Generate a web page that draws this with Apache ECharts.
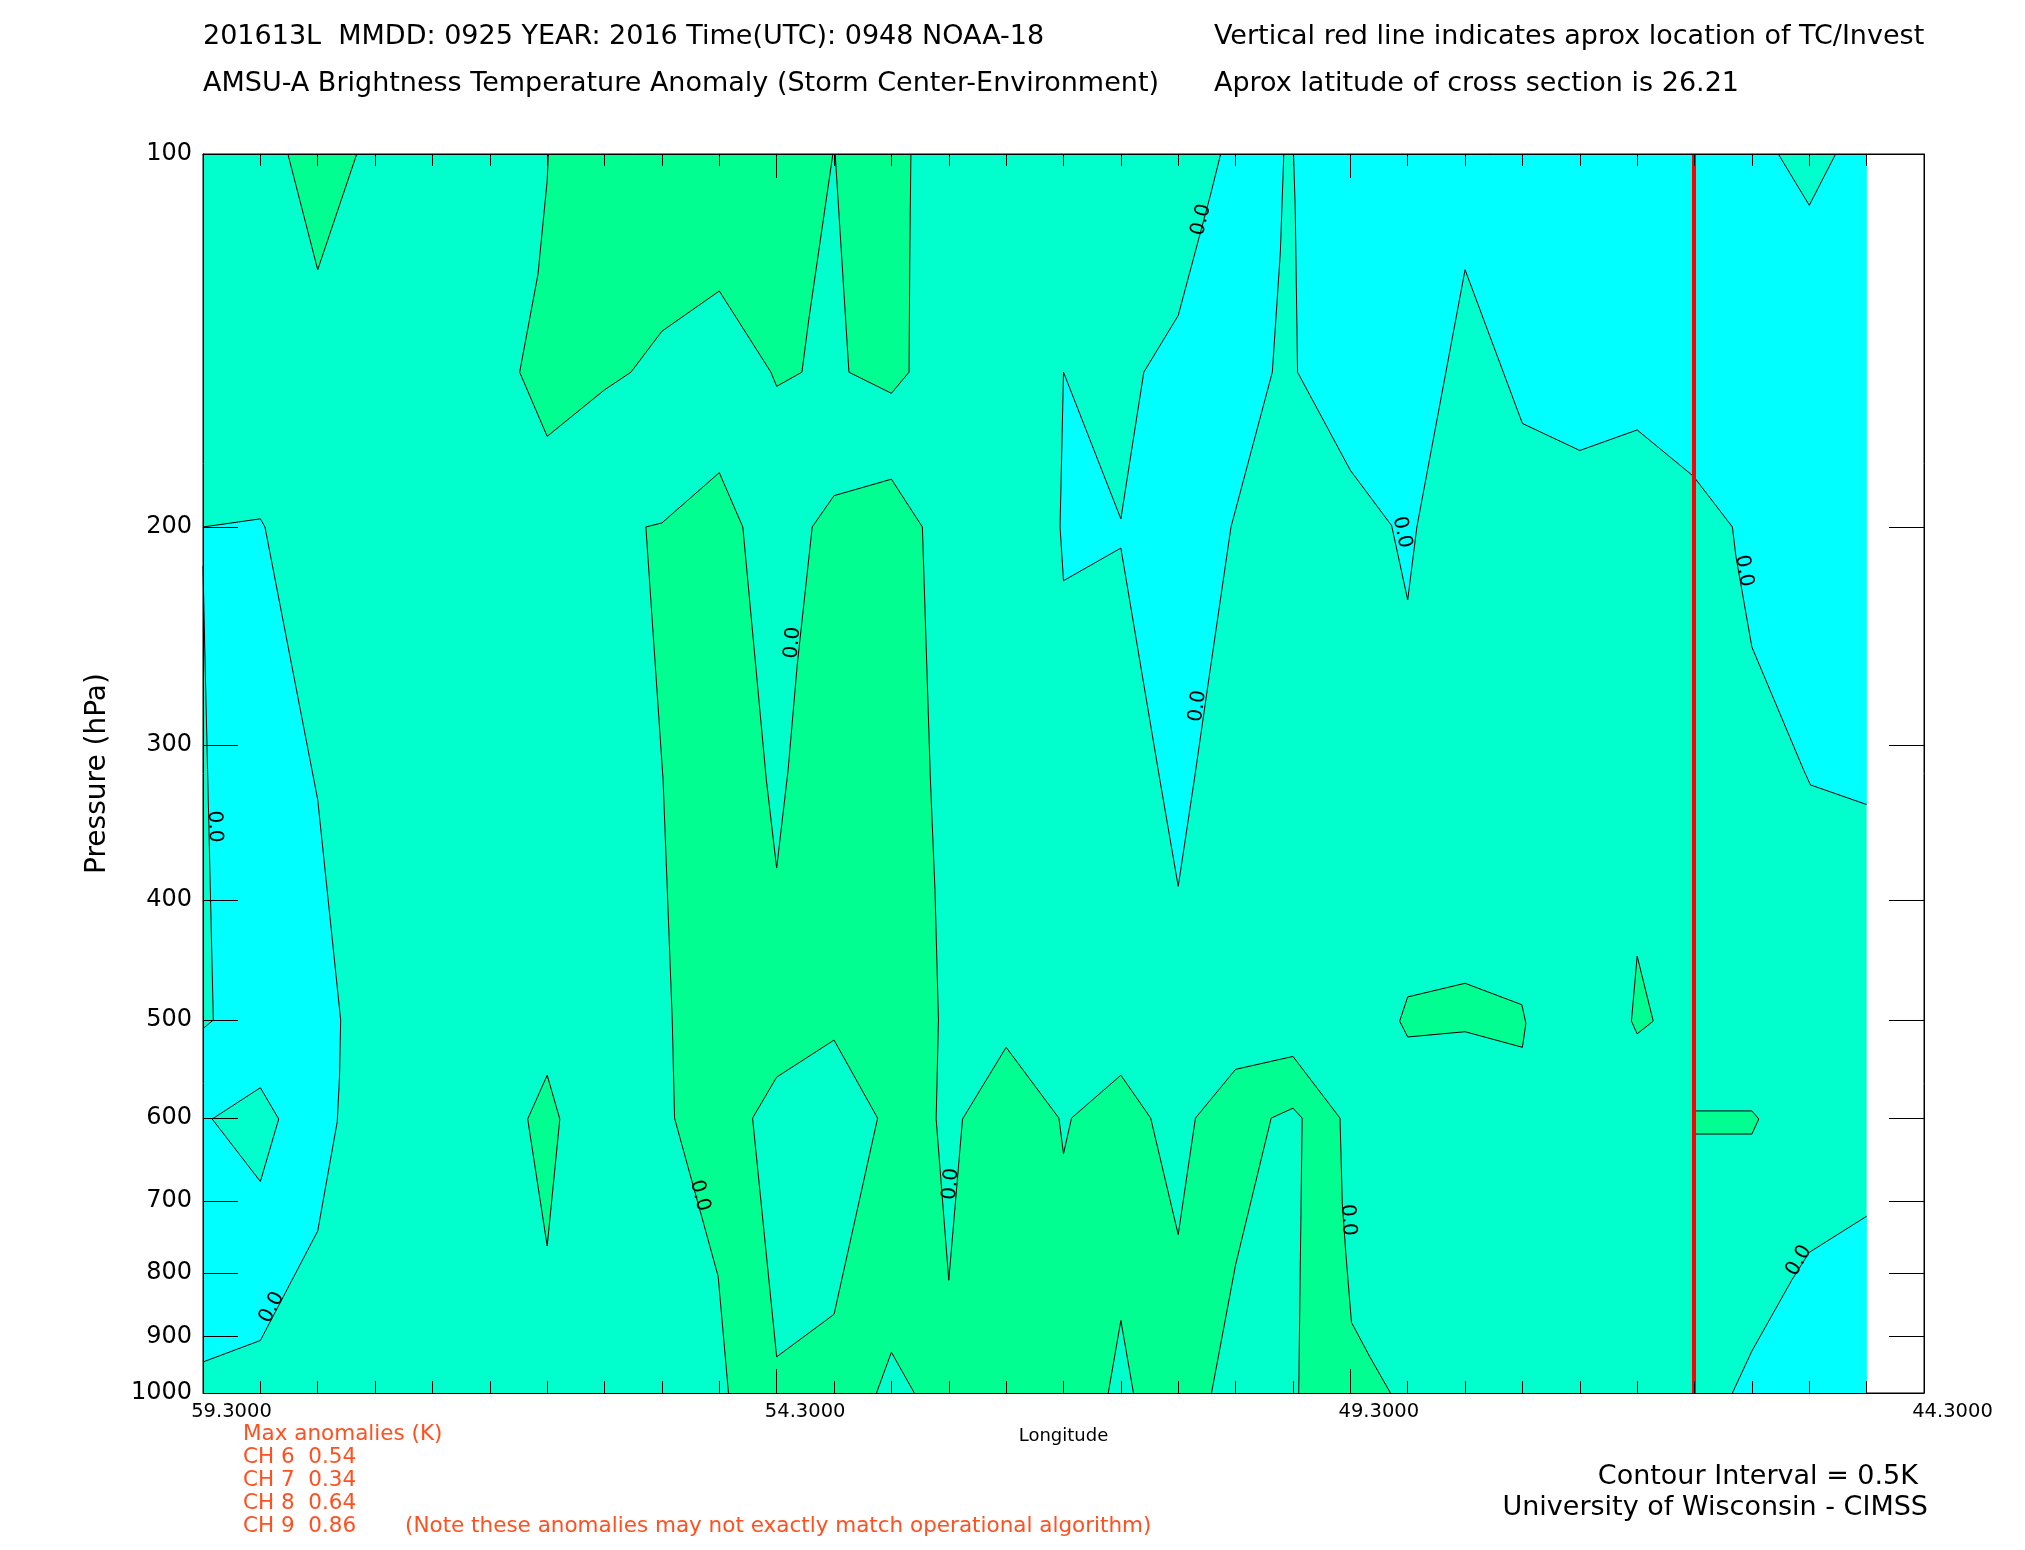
<!DOCTYPE html>
<html><head><meta charset="utf-8">
<script src="https://cdn.jsdelivr.net/npm/echarts@6/dist/echarts.min.js"></script>
<style>html,body{margin:0;padding:0;background:#fff}#chart{width:2025px;height:1550px}</style>
</head><body><div id="chart"></div>
<script>
// ---- axis definitions ----
const lonMin = 44.3, lonMax = 59.3, lonInterval = 5, lonMinorInterval = 0.5;
const dataLonWest = 59.3, dataLonEast = 44.8;
const pressureMin = 100, pressureMax = 1000;
const pressureTicks = [100, 200, 300, 400, 500, 600, 700, 800, 900, 1000];
const tcLongitude = 46.31;

// ---- contour regions: [longitude, pressure(hPa)] vertices ----
const fieldExtent = [[59.3,100],[44.8,100],[44.8,1000],[59.3,1000]];
const cyanLeft = [[59.3,200],[58.8,197],[58.76,200],[58.3,332],[58.1,500],[58.11,555],[58.13,604],[58.3,740],[58.8,907],[59.3,944]];
const midSliverLeft = [[59.3,215],[59.285,250],[59.26,314],[59.21,500],[59.3,508]];
const midDiamondLeft = [[59.22,601],[58.8,567],[58.64,601],[58.8,675]];
const cyanUpper = [[50.43,100],[50.52,108],[50.8,135],[51.1,150],[51.3,197],[51.8,150],[51.83,200],[51.8,221],[51.3,208],[50.96,320],[50.8,390],[50.66,320],[50.53,264],[50.34,200],[49.98,150],[49.91,120],[49.88,100]];
const cyanUpperRight = [[49.795,100],[49.78,111],[49.76,150],[49.3,180],[48.94,199.5],[48.8,229],[48.72,200],[48.3,124],[47.8,165],[47.3,173.5],[46.8,167],[46.31,182],[45.97,200],[45.94,211],[45.8,250],[45.35,314],[45.29,323],[44.8,335],[44.8,100]];
const midTopRightTri = [[45.57,100],[45.3,110],[45.07,100]];
const cyanLowerRight = [[45.97,1000],[45.8,925],[45.45,810],[45.3,770],[44.8,720],[44.8,1000]];
const greenTopLeftTri = [[58.56,100],[58.3,124],[57.96,100]];
const greenTopA = [[56.29,100],[56.3,105],[56.38,125],[56.54,150],[56.3,169],[55.8,155],[55.57,150],[55.3,139],[54.8,129],[54.35,150],[54.3,154],[54.08,150],[54.02,136],[53.81,100]];
const greenTopB = [[53.79,100],[53.67,150],[53.3,156],[53.146,150],[53.14,122],[53.13,100]];
const greenColumn = [[55.44,200],[55.3,198.5],[54.8,180.8],[54.595,200],[54.39,320],[54.3,377],[54.2,314],[54.12,258],[53.99,200],[53.8,188.7],[53.3,183],[53.03,200],[52.96,320],[52.92,393],[52.89,500],[52.91,601],[52.8,811],[52.68,601],[52.3,526],[51.84,600],[51.8,641],[51.73,600],[51.3,554],[51.04,600],[50.8,745],[50.65,600],[50.3,548],[49.8,535],[49.39,600],[49.37,703],[49.34,770],[49.29,877],[49.13,935],[48.95,1000],[54.72,1000],[54.81,805],[55.19,600],[55.21,500],[55.29,320]];
const midHoleA = [[54.51,600],[54.3,556],[53.8,519],[53.42,600],[53.8,864],[54.3,935]];
const midHoleB = [[50.51,1000],[50.3,788],[49.99,600],[49.8,589],[49.72,600],[49.75,1000]];
const midTriA = [[53.43,1000],[53.3,927],[53.1,1000]];
const midTriB = [[51.41,1000],[51.3,874],[51.19,1000]];
const greenDiamond = [[56.3,554],[56.19,601],[56.3,761],[56.47,601]];
const greenBlobA = [[48.87,501],[48.8,479],[48.3,467],[47.805,486],[47.77,503],[47.8,526],[48.3,511],[48.8,516]];
const greenBlobB = [[46.8,444],[46.66,501],[46.8,513],[46.85,501]];
const greenBlobC = [[46.31,592],[45.8,592],[45.74,601],[45.8,618],[46.31,618]];

// contour labels: [longitude, pressure, angle in degrees]
const contourLabels = [[59.2,349,-88],[50.6,113,76],[50.63,279,82],[48.85,202,-78],[45.87,217,-80],[54.16,248,85],[52.78,678,85],[49.32,725,-86],[54.97,693,-75],[58.7,853,62],[45.39,782,60]];
const contourLabelText = '0.0';

const titleLines = ['201613L  MMDD: 0925 YEAR: 2016 Time(UTC): 0948 NOAA-18', 'AMSU-A Brightness Temperature Anomaly (Storm Center-Environment)'];
const noteLines = ['Vertical red line indicates aprox location of TC/Invest', 'Aprox latitude of cross section is 26.21'];
const anomalyLines = ['Max anomalies (K)', 'CH 6  0.54', 'CH 7  0.34', 'CH 8  0.64', 'CH 9  0.86'];
const anomalyNote = '(Note these anomalies may not exactly match operational algorithm)';
const creditLines = ['Contour Interval = 0.5K', 'University of Wisconsin - CIMSS'];

// ---- styling ----
const C_CYAN = '#00ffff', C_MID = '#00ffcc', C_GREEN = '#00ff90';
const layers = [
  {poly: fieldExtent, color: C_MID, outline: false},
  {poly: cyanLeft, color: C_CYAN, outline: true},
  {poly: midSliverLeft, color: C_MID, outline: true},
  {poly: midDiamondLeft, color: C_MID, outline: true},
  {poly: cyanUpper, color: C_CYAN, outline: true},
  {poly: cyanUpperRight, color: C_CYAN, outline: true},
  {poly: midTopRightTri, color: C_MID, outline: true},
  {poly: cyanLowerRight, color: C_CYAN, outline: true},
  {poly: greenTopLeftTri, color: C_GREEN, outline: true},
  {poly: greenTopA, color: C_GREEN, outline: true},
  {poly: greenTopB, color: C_GREEN, outline: true},
  {poly: greenColumn, color: C_GREEN, outline: true},
  {poly: midHoleA, color: C_MID, outline: true},
  {poly: midHoleB, color: C_MID, outline: true},
  {poly: midTriA, color: C_MID, outline: true},
  {poly: midTriB, color: C_MID, outline: true},
  {poly: greenDiamond, color: C_GREEN, outline: true},
  {poly: greenBlobA, color: C_GREEN, outline: true},
  {poly: greenBlobB, color: C_GREEN, outline: true},
  {poly: greenBlobC, color: C_GREEN, outline: true}
];

function near(a, b) { return Math.abs(a - b) < 1e-6; }
function onBoundary(a, b) {
  return (near(a[0], dataLonWest) && near(b[0], dataLonWest)) ||
         (near(a[0], dataLonEast) && near(b[0], dataLonEast)) ||
         (near(a[1], pressureMin) && near(b[1], pressureMin)) ||
         (near(a[1], pressureMax) && near(b[1], pressureMax));
}
function lineEl(points) {
  return {type: 'polyline', shape: {points: points}, style: {stroke: '#000', lineWidth: 1, fill: null}, silent: true};
}
function renderRegion(params, api) {
  const layer = layers[params.dataIndex];
  const poly = layer.poly;
  const pts = poly.map(v => api.coord(v));
  const children = [{type: 'polygon', shape: {points: pts}, style: {fill: layer.color, stroke: null}, silent: true}];
  if (layer.outline) {
    const n = pts.length;
    let start = 0;
    for (let i = 0; i < n; i++) { if (onBoundary(poly[i], poly[(i + 1) % n])) { start = (i + 1) % n; break; } }
    let run = [pts[start]];
    for (let k = 0; k < n; k++) {
      const i = (start + k) % n, j = (i + 1) % n;
      if (onBoundary(poly[i], poly[j])) { if (run.length > 1) children.push(lineEl(run)); run = [pts[j]]; }
      else run.push(pts[j]);
    }
    if (run.length > 1) children.push(lineEl(run));
  }
  return {type: 'group', children: children};
}
function renderLabel(params, api) {
  const c = api.coord([api.value(0), api.value(1)]);
  return {type: 'text', x: c[0], y: c[1], rotation: api.value(2) * Math.PI / 180, silent: true,
    style: {text: contourLabelText, fill: '#000', font: '20px "DejaVu Sans"', align: 'center', verticalAlign: 'middle'}};
}

const FONT = '"DejaVu Sans", sans-serif';
const graphics = [];
titleLines.forEach((t, i) => graphics.push({type: 'text', left: 203, top: 23 + i * 47, style: {text: t, font: '27px ' + FONT, fill: '#000'}}));
noteLines.forEach((t, i) => graphics.push({type: 'text', left: 1214, top: 23 + i * 47, style: {text: t, font: '27px ' + FONT, fill: '#000'}}));
anomalyLines.forEach((t, i) => graphics.push({type: 'text', left: 243, top: 1423 + i * 23.2, style: {text: t, font: '21.5px ' + FONT, fill: '#ff5020'}}));
graphics.push({type: 'text', left: 405, top: 1423 + 4 * 23.2, style: {text: anomalyNote, font: '21.5px ' + FONT, fill: '#ff5020'}});
graphics.push({type: 'text', right: 2025 - 1918, top: 1463, style: {text: creditLines[0], font: '27px ' + FONT, fill: '#000', align: 'right'}});
graphics.push({type: 'text', right: 2025 - 1928, top: 1494, style: {text: creditLines[1], font: '27px ' + FONT, fill: '#000', align: 'right'}});

const xAxisBase = {
  type: 'value', min: lonMin, max: lonMax, interval: lonInterval, inverse: true, z: 10,
  axisLine: {show: true, onZero: false, lineStyle: {color: '#000', width: 1}},
  axisTick: {show: true, inside: true, length: 24, lineStyle: {color: '#000', width: 1}},
  splitLine: {show: false}, minorTick: {show: false}, minorSplitLine: {show: false}
};
const xMinorBase = {
  type: 'value', min: lonMin, max: lonMax, interval: lonMinorInterval, inverse: true, z: 10,
  axisLine: {show: false, onZero: false},
  axisTick: {show: true, inside: true, length: 12, lineStyle: {color: '#000', width: 1}},
  axisLabel: {show: false}, splitLine: {show: false}
};
const yAxisBase = {
  type: 'log', logBase: 10, min: pressureMin, max: pressureMax, inverse: true, z: 10,
  axisLine: {show: true, onZero: false, lineStyle: {color: '#000', width: 1}},
  axisTick: {show: true, inside: true, length: 35, customValues: pressureTicks, lineStyle: {color: '#000', width: 1}},
  minorTick: {show: false}, splitLine: {show: false}, minorSplitLine: {show: false}
};

const chart = echarts.init(document.getElementById('chart'), null, {renderer: 'canvas'});
chart.setOption({
  animation: false,
  backgroundColor: '#fff',
  grid: {left: 203, top: 154, width: 1721, height: 1239, show: true, backgroundColor: '#fff', borderColor: '#000', borderWidth: 1},
  xAxis: [
    Object.assign({}, xAxisBase, {position: 'bottom',
      axisLabel: {show: true, showMinLabel: true, showMaxLabel: true, formatter: v => Number(v).toFixed(4), fontSize: 19.5, fontFamily: FONT, color: '#000', margin: 9, align: 'center', padding: [0, 0, 0, 57]},
      name: 'Longitude', nameLocation: 'middle', nameGap: 33, nameTextStyle: {fontSize: 18, fontFamily: FONT, color: '#000'}}),
    Object.assign({}, xAxisBase, {position: 'top', axisLabel: {show: false}}),
    Object.assign({}, xMinorBase, {position: 'bottom'}),
    Object.assign({}, xMinorBase, {position: 'top'})
  ],
  yAxis: [
    Object.assign({}, yAxisBase, {position: 'left',
      axisLabel: {show: true, customValues: pressureTicks, formatter: v => String(Math.round(v)), fontSize: 24, fontFamily: FONT, color: '#000', margin: 11},
      name: 'Pressure (hPa)', nameLocation: 'middle', nameGap: 91, nameRotate: 90, nameTextStyle: {fontSize: 28, fontFamily: FONT, color: '#000'}}),
    Object.assign({}, yAxisBase, {position: 'right', axisLabel: {show: false}})
  ],
  graphic: graphics,
  series: [
    {type: 'custom', name: 'regions', xAxisIndex: 0, yAxisIndex: 0, renderItem: renderRegion, silent: true, z: 2,
      data: layers.map(l => l.poly[0])},
    {type: 'custom', name: 'labels', xAxisIndex: 0, yAxisIndex: 0, renderItem: renderLabel, silent: true, z: 3,
      data: contourLabels,
      markLine: {silent: true, symbol: ['none', 'none'], label: {show: false}, animation: false,
        lineStyle: {color: '#ff0000', width: 4, type: 'solid'}, data: [{xAxis: tcLongitude}]}}
  ]
});
</script></body></html>
